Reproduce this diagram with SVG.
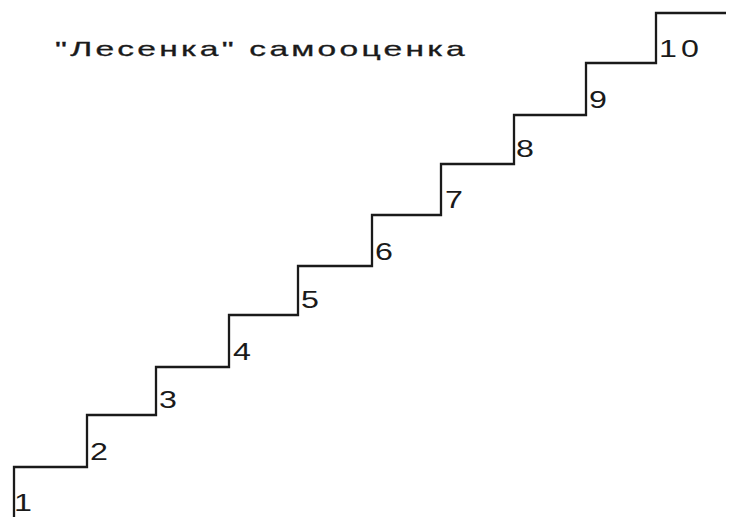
<svg xmlns="http://www.w3.org/2000/svg" width="750" height="522" viewBox="0 0 750 522">
<style>
.stair{fill:none;stroke:#1a1a1a;stroke-width:2.3;stroke-linejoin:miter}
.lbl{font-family:"Liberation Sans",Arial,sans-serif;font-size:23px;fill:#1a1a1a}
.title{font-family:"Liberation Sans",Arial,sans-serif;font-size:21px;fill:#1a1a1a;stroke:#1a1a1a;stroke-width:0.3}
</style>
<rect width="750" height="522" fill="#ffffff"/>
<g id="title">
<text class="title" transform="translate(55,56) scale(1.6,1)" x="0" y="0" textLength="256" lengthAdjust="spacing">"Лесенка" самооценка</text>
</g>
<g id="staircase">
<path class="stair" d="M14,517 V467 H87 V415 H156 V367 H229 V315 H298 V266 H372 V215 H441 V164 H514 V115 H586 V63 H656 V13 H726"/>
</g>
<g id="labels">
<text class="lbl" transform="translate(14,511) scale(1.4,1)">1</text>
<text class="lbl" transform="translate(90,460) scale(1.4,1)">2</text>
<text class="lbl" transform="translate(159,408) scale(1.4,1)">3</text>
<text class="lbl" transform="translate(233,360) scale(1.4,1)">4</text>
<text class="lbl" transform="translate(301,308) scale(1.4,1)">5</text>
<text class="lbl" transform="translate(375,260) scale(1.4,1)">6</text>
<text class="lbl" transform="translate(445,208) scale(1.4,1)">7</text>
<text class="lbl" transform="translate(516,157) scale(1.4,1)">8</text>
<text class="lbl" transform="translate(589,108) scale(1.4,1)">9</text>
<text class="lbl" transform="translate(659,57) scale(1.4,1)" letter-spacing="3">10</text>
</g>
</svg>
